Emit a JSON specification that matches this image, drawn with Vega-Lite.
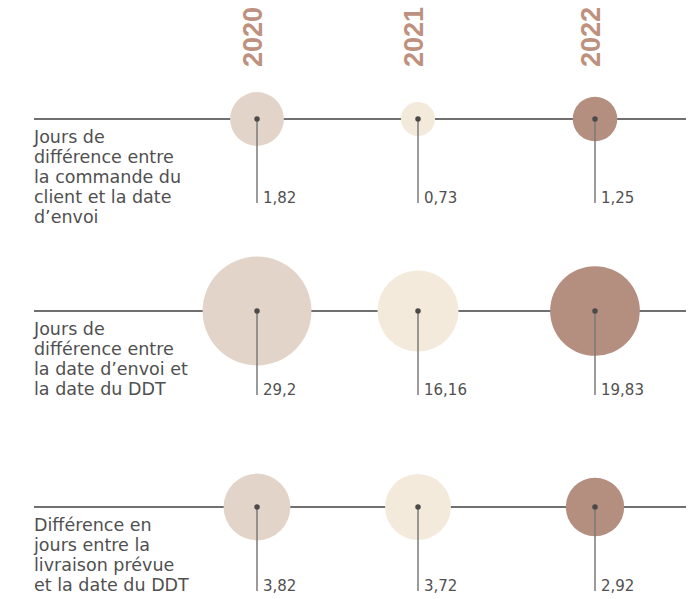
{
  "$schema": "https://vega.github.io/schema/vega-lite/v6.json",
  "width": 699,
  "height": 599,
  "autosize": {"type": "fit", "contains": "padding"},
  "padding": {"left": 33, "right": 12, "top": 0, "bottom": 0},
  "background": "white",
  "config": {
    "view": {"stroke": null},
    "locale": {"number": {"decimal": ",", "thousands": " ", "grouping": [3], "currency": ["", " €"]}},
    "text": {"font": "DejaVu Sans"}
  },
  "resolve": {"scale": {"size": "independent"}},
  "datasets": {
    "metrics": [
      {"row": 1, "label": "Jours de\ndifférence entre\nla commande du\nclient et la date\nd’envoi"},
      {"row": 2, "label": "Jours de\ndifférence entre\nla date d’envoi et\nla date du DDT"},
      {"row": 3, "label": "Différence en\njours entre la\nlivraison prévue\net la date du DDT"}
    ],
    "values": [
      {"row": 1, "year": 2020, "value": 1.82},
      {"row": 1, "year": 2021, "value": 0.73},
      {"row": 1, "year": 2022, "value": 1.25},
      {"row": 2, "year": 2020, "value": 29.2},
      {"row": 2, "year": 2021, "value": 16.16},
      {"row": 2, "year": 2022, "value": 19.83},
      {"row": 3, "year": 2020, "value": 3.82},
      {"row": 3, "year": 2021, "value": 3.72},
      {"row": 3, "year": 2022, "value": 2.92}
    ],
    "years": [{"year": 2020, "row": 0}, {"year": 2021, "row": 0}, {"year": 2022, "row": 0}]
  },
  "encoding": {
    "x": {"field": "year", "type": "quantitative", "axis": null,
          "scale": {"domain": [2020, 2021, 2022], "range": [223, 384, 561], "nice": false, "zero": false}},
    "y": {"field": "row", "type": "quantitative", "axis": null,
          "scale": {"domain": [0, 1, 2, 3], "range": [67, 119, 311, 507], "nice": false, "zero": false}}
  },
  "layer": [
    {
      "data": {"name": "metrics"},
      "mark": {"type": "rule", "color": "#707070", "strokeWidth": 2},
      "encoding": {"x": null}
    },
    {
      "data": {"name": "values"},
      "transform": [{"filter": "datum.row === 1"}],
      "mark": {"type": "circle", "opacity": 1},
      "encoding": {
        "size": {"field": "value", "type": "quantitative", "legend": null,
                 "scale": {"domain": [0, 2], "range": [0, 3180], "zero": true}},
        "color": {"field": "year", "type": "nominal", "legend": null,
                  "scale": {"domain": [2020, 2021, 2022], "range": ["#e2d4c9", "#f4eadc", "#b48e7e"]}}
      }
    },
    {
      "data": {"name": "values"},
      "transform": [{"filter": "datum.row === 2"}],
      "mark": {"type": "circle", "opacity": 1},
      "encoding": {
        "size": {"field": "value", "type": "quantitative", "legend": null,
                 "scale": {"domain": [0, 30], "range": [0, 12180], "zero": true}},
        "color": {"field": "year", "type": "nominal", "legend": null,
                  "scale": {"domain": [2020, 2021, 2022], "range": ["#e2d4c9", "#f4eadc", "#b48e7e"]}}
      }
    },
    {
      "data": {"name": "values"},
      "transform": [{"filter": "datum.row === 3"}],
      "mark": {"type": "circle", "opacity": 1},
      "encoding": {
        "size": {"field": "value", "type": "quantitative", "legend": null,
                 "scale": {"domain": [0, 4], "range": [0, 4668], "zero": true}},
        "color": {"field": "year", "type": "nominal", "legend": null,
                  "scale": {"domain": [2020, 2021, 2022], "range": ["#e2d4c9", "#f4eadc", "#b48e7e"]}}
      }
    },
    {
      "data": {"name": "values"},
      "mark": {"type": "rule", "color": "#7a7a7a", "strokeWidth": 1.5, "y2Offset": 84},
      "encoding": {"y2": {"field": "row"}}
    },
    {
      "data": {"name": "values"},
      "mark": {"type": "circle", "color": "#4a4a4a", "opacity": 1, "size": 30}
    },
    {
      "data": {"name": "values"},
      "mark": {"type": "text", "align": "left", "baseline": "alphabetic", "dx": 6, "dy": 84, "fontSize": 15, "color": "#505050"},
      "encoding": {"text": {"field": "value", "type": "quantitative", "format": "~g"}}
    },
    {
      "data": {"name": "metrics"},
      "mark": {"type": "text", "align": "left", "baseline": "alphabetic", "dy": 24, "fontSize": 17.5, "lineHeight": 20, "lineBreak": "\n", "color": "#505050"},
      "encoding": {"x": {"value": 0}, "text": {"field": "label"}}
    },
    {
      "data": {"name": "years"},
      "mark": {"type": "text", "align": "left", "baseline": "alphabetic", "angle": 270, "dy": 4.5, "fontSize": 27, "fontWeight": "bold", "font": "Liberation Sans", "color": "#bd917e"},
      "encoding": {"text": {"field": "year", "type": "nominal"}}
    }
  ]
}
